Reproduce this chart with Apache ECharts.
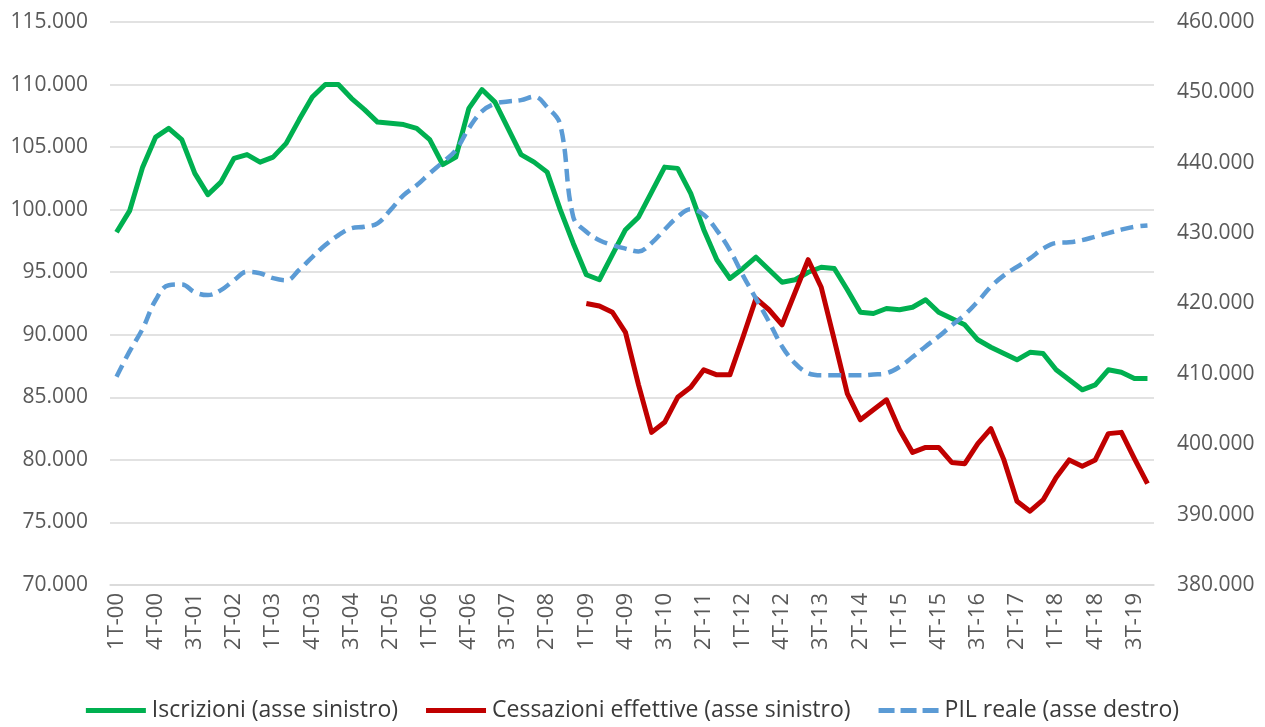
<!DOCTYPE html>
<html>
<head>
<meta charset="utf-8">
<script src="https://cdn.jsdelivr.net/npm/echarts@6/dist/echarts.min.js"></script>
<style>
  html, body { margin: 0; padding: 0; background: #fff; }
  #chart { width: 1265px; height: 727px; }
</style>
</head>
<body>
<div id="chart"></div>
<script>
// trimestri 1T-00 ... 4T-19
const quarters = [
  '1T-00','2T-00','3T-00','4T-00','1T-01','2T-01','3T-01','4T-01',
  '1T-02','2T-02','3T-02','4T-02','1T-03','2T-03','3T-03','4T-03',
  '1T-04','2T-04','3T-04','4T-04','1T-05','2T-05','3T-05','4T-05',
  '1T-06','2T-06','3T-06','4T-06','1T-07','2T-07','3T-07','4T-07',
  '1T-08','2T-08','3T-08','4T-08','1T-09','2T-09','3T-09','4T-09',
  '1T-10','2T-10','3T-10','4T-10','1T-11','2T-11','3T-11','4T-11',
  '1T-12','2T-12','3T-12','4T-12','1T-13','2T-13','3T-13','4T-13',
  '1T-14','2T-14','3T-14','4T-14','1T-15','2T-15','3T-15','4T-15',
  '1T-16','2T-16','3T-16','4T-16','1T-17','2T-17','3T-17','4T-17',
  '1T-18','2T-18','3T-18','4T-18','1T-19','2T-19','3T-19','4T-19'
];

// migliaia (asse sinistro)
const iscrizioni = [
  98.2, 99.9, 103.4, 105.8, 106.5, 105.6, 102.9, 101.2,
  102.2, 104.1, 104.4, 103.8, 104.2, 105.3, 107.2, 109.0,
  110.0, 110.0, 108.9, 108.0, 107.0, 106.9, 106.8, 106.5,
  105.6, 103.6, 104.2, 108.1, 109.6, 108.6, 106.5, 104.4,
  103.8, 103.0, 100.0, 97.3, 94.8, 94.4, 96.4, 98.4,
  99.4, 101.4, 103.4, 103.3, 101.3, 98.4, 96.0, 94.5,
  95.3, 96.2, 95.2, 94.2, 94.4, 95.0, 95.4, 95.3,
  93.6, 91.8, 91.7, 92.1, 92.0, 92.2, 92.8, 91.8,
  91.3, 90.8, 89.6, 89.0, 88.5, 88.0, 88.6, 88.5,
  87.2, 86.4, 85.6, 86.0, 87.2, 87.0, 86.5, 86.5
];

const cessazioni = [
  null, null, null, null, null, null, null, null,
  null, null, null, null, null, null, null, null,
  null, null, null, null, null, null, null, null,
  null, null, null, null, null, null, null, null,
  null, null, null, null, 92.5, 92.3, 91.8, 90.2,
  86.0, 82.2, 83.0, 85.0, 85.8, 87.2, 86.8, 86.8,
  89.8, 92.9, 92.0, 90.8, 93.4, 96.0, 93.8, 89.6,
  85.3, 83.2, 84.0, 84.8, 82.4, 80.6, 81.0, 81.0,
  79.8, 79.7, 81.3, 82.5, 80.0, 76.7, 75.9, 76.8,
  78.6, 80.0, 79.5, 80.0, 82.1, 82.2, 80.1, 78.1
];

// migliaia (asse destro)
const pilReale = [
  409.6, 413.2, 416.4, 420.5, 422.6, 422.7, 421.6, 421.2,
  421.9, 423.3, 424.5, 424.3, 423.6, 423.3, 424.8, 426.6,
  428.3, 429.7, 430.7, 430.9, 431.4, 433.3, 435.4, 436.8,
  438.5, 440.1, 441.8, 444.9, 447.3, 448.4, 448.7, 448.9,
  449.4, 447.9, 445.4, 432.3, 430.2, 429.0, 428.3, 427.8,
  427.4, 428.6, 430.5, 432.3, 433.4, 432.6, 430.4, 427.6,
  424.0, 420.7, 417.4, 413.9, 411.5, 410.1, 409.8, 409.8,
  409.8, 409.8, 409.9, 410.1, 411.0, 412.4, 413.9, 415.3,
  416.9, 418.4, 420.3, 422.4, 424.0, 425.2, 426.4, 427.8,
  428.6, 428.7, 429.0, 429.5, 430.0, 430.5, 430.9, 431.1
];

const fmt = v => v.toFixed(3);
const font = 'Open Sans';
const solidIcon = 'path://M0,0h60v5h-60z';
const dashIcon = 'path://M0,0h16v5h-16z M22,0h16v5h-16z M44,0h16v5h-16z';

const chart = echarts.init(document.getElementById('chart'));
chart.setOption({
  animation: false,
  textStyle: { fontFamily: font },
  grid: { left: 110, right: 111, top: 22, bottom: 142 },
  legend: {
    bottom: 0,
    itemWidth: 62,
    itemHeight: 5,
    itemGap: 28,
    textStyle: { fontSize: 23, color: '#3a3a3a', fontFamily: font },
    data: [
      { name: 'Iscrizioni (asse sinistro)', icon: solidIcon },
      { name: 'Cessazioni effettive (asse sinistro)', icon: solidIcon },
      { name: 'PIL reale (asse destro)', icon: dashIcon }
    ]
  },
  xAxis: {
    type: 'category',
    data: quarters,
    boundaryGap: true,
    axisTick: { show: false },
    axisLine: { lineStyle: { color: '#d9d9d9', width: 1.5 } },
    axisLabel: { interval: 2, rotate: 90, margin: 8, fontSize: 22, color: '#595959' }
  },
  yAxis: [
    {
      type: 'value',
      min: 70, max: 115, interval: 5,
      axisLine: { show: false },
      axisTick: { show: false },
      splitLine: { lineStyle: { color: '#d9d9d9', width: 1.5 } },
      axisLabel: { formatter: fmt, margin: 22, fontSize: 21, color: '#595959' }
    },
    {
      type: 'value',
      min: 380, max: 460, interval: 10,
      axisLine: { show: false },
      axisTick: { show: false },
      splitLine: { show: false },
      axisLabel: { formatter: fmt, margin: 23, fontSize: 21, color: '#595959' }
    }
  ],
  series: [
    {
      name: 'Iscrizioni (asse sinistro)',
      type: 'line',
      data: iscrizioni,
      symbol: 'none',
      lineStyle: { color: '#00b050', width: 5, join: 'round' },
      itemStyle: { color: '#00b050' }
    },
    {
      name: 'Cessazioni effettive (asse sinistro)',
      type: 'line',
      data: cessazioni,
      symbol: 'none',
      lineStyle: { color: '#c00000', width: 5, join: 'round' },
      itemStyle: { color: '#c00000' }
    },
    {
      name: 'PIL reale (asse destro)',
      type: 'line',
      yAxisIndex: 1,
      data: pilReale,
      symbol: 'none',
      smooth: 0.4,
      lineStyle: { color: '#5b9bd5', width: 4.5, type: [13, 7] },
      itemStyle: { color: '#5b9bd5' }
    }
  ]
});
</script>
</body>
</html>
